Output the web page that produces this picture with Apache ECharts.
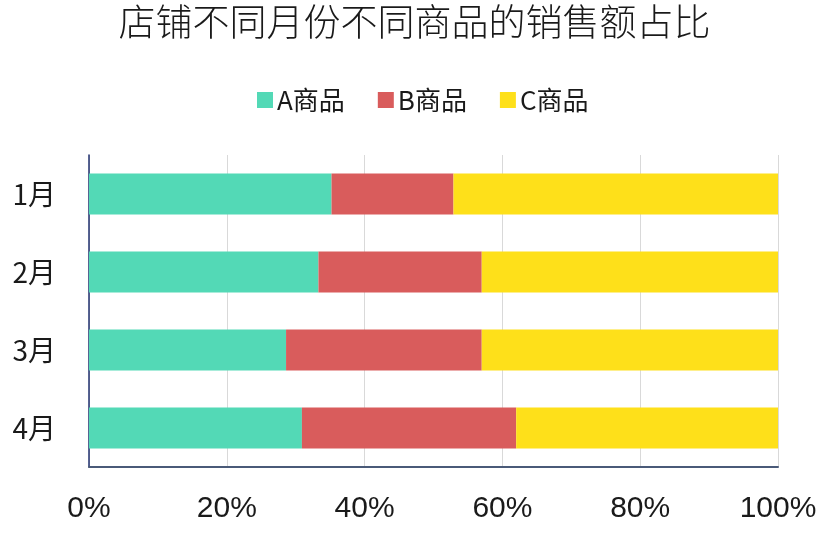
<!DOCTYPE html>
<html>
<head>
<meta charset="utf-8">
<script src="https://cdn.jsdelivr.net/npm/echarts@6/dist/echarts.min.js"></script>
<style>
html,body{margin:0;padding:0;background:#fff;}
#chart{width:829px;height:535px;}
</style>
</head>
<body>
<div id="chart"></div>
<script>
var titleText = '店铺不同月份不同商品的销售额占比';
var months = ['1月', '2月', '3月', '4月'];
var seriesNames = ['A商品', 'B商品', 'C商品'];
var shareA = [35.2, 33.3, 28.6, 30.9];
var shareB = [17.7, 23.7, 28.4, 31.1];
var shareC = [47.1, 43.0, 43.0, 38.0];
var xTicks = [0, 20, 40, 60, 80, 100];
var colors = ['#53d9b6', '#d95c5c', '#fee01a'];

var chart = echarts.init(document.getElementById('chart'));
var values = [shareA, shareB, shareC];
var series = seriesNames.map(function (name, i) {
  return {
    name: name,
    type: 'bar',
    stack: 'total',
    barWidth: 41,
    data: values[i],
    itemStyle: { color: colors[i] }
  };
});

chart.setOption({
  animation: false,
  backgroundColor: '#ffffff',
  title: {
    text: titleText,
    left: 'center',
    top: -2,
    textStyle: {
      fontFamily: '"Noto Sans CJK SC", sans-serif',
      fontWeight: 300,
      fontSize: 37,
      color: '#1a1a1a'
    }
  },
  legend: {
    data: seriesNames,
    left: 252,
    top: 82,
    itemWidth: 16,
    itemHeight: 16,
    itemGap: 33,
    icon: 'rect',
    textStyle: {
      fontFamily: '"Noto Sans CJK SC", sans-serif',
      fontSize: 26,
      color: '#1a1a1a',
      padding: [0, 0, 0, -1]
    }
  },
  grid: { left: 89, right: 51, top: 155, bottom: 68, containLabel: false },
  xAxis: {
    type: 'value',
    min: xTicks[0],
    max: xTicks[xTicks.length - 1],
    interval: xTicks[1] - xTicks[0],
    axisLine: { show: true, lineStyle: { color: '#4a5a78', width: 2 } },
    axisTick: { show: false },
    splitLine: { show: true, lineStyle: { color: '#d9d9d9', width: 1 } },
    axisLabel: {
      formatter: '{value}%',
      margin: 27,
      fontFamily: '"Liberation Sans Narrow", "Liberation Sans", sans-serif',
      fontSize: 30,
      color: '#1a1a1a'
    }
  },
  yAxis: {
    type: 'category',
    data: months,
    inverse: true,
    axisLine: { show: true, lineStyle: { color: '#1f2f6e', width: 1.5 } },
    axisTick: { show: false },
    axisLabel: {
      margin: 33,
      fontFamily: '"Noto Sans CJK SC", sans-serif',
      fontSize: 28,
      color: '#1a1a1a'
    }
  },
  series: series
});
</script>
</body>
</html>
